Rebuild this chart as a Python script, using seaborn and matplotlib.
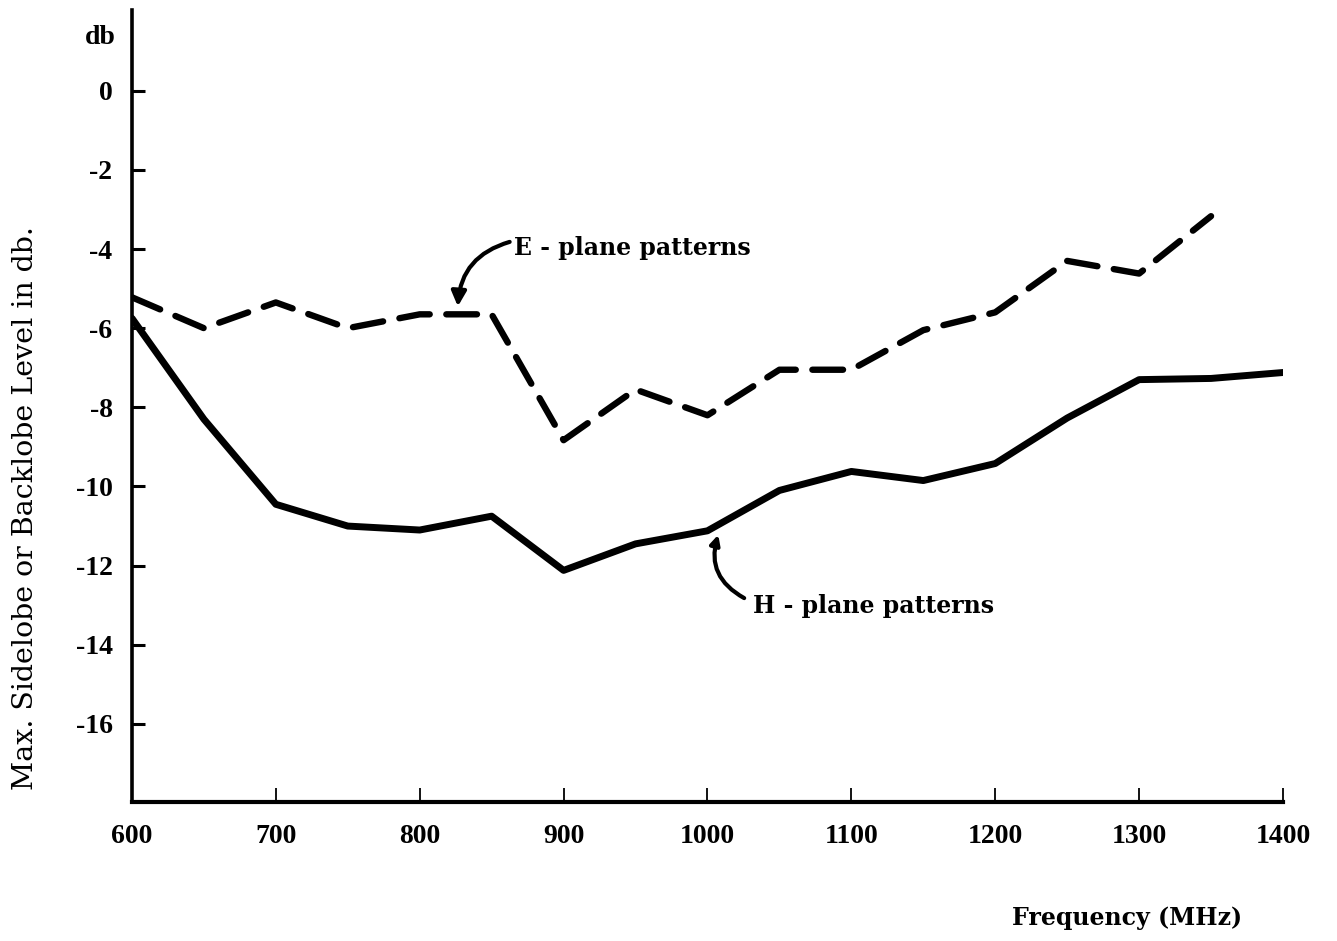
import matplotlib
matplotlib.use("Agg")
import matplotlib.pyplot as plt
import pandas as pd
import seaborn as sns

# Measured maximum sidelobe / backlobe levels (dB) versus frequency (MHz)
freq_e = [600, 650, 700, 750, 800, 850, 900, 950, 1000, 1050, 1100, 1150, 1200, 1250, 1300, 1350]
e_plane_db = [-5.22, -6.0, -5.35, -6.0, -5.65, -5.65, -8.83, -7.55, -8.2, -7.05, -7.05, -6.05, -5.6, -4.3, -4.62, -3.17]

freq_h = [600, 650, 700, 750, 800, 850, 900, 950, 1000, 1050, 1100, 1150, 1200, 1250, 1300, 1350, 1400]
h_plane_db = [-5.75, -8.3, -10.45, -11.0, -11.1, -10.75, -12.12, -11.45, -11.12, -10.1, -9.62, -9.85, -9.42, -8.27, -7.3, -7.27, -7.12]

x_ticks = [600, 700, 800, 900, 1000, 1100, 1200, 1300, 1400]
y_ticks = [0, -2, -4, -6, -8, -10, -12, -14, -16]

e_df = pd.DataFrame({"freq": freq_e, "db": e_plane_db})
h_df = pd.DataFrame({"freq": freq_h, "db": h_plane_db})

sns.set_theme(style="white")
plt.rcParams["font.family"] = ["Liberation Serif", "DejaVu Serif"]
plt.rcParams["axes.unicode_minus"] = False
for key in ("text.color", "axes.labelcolor", "xtick.color", "ytick.color",
            "axes.edgecolor"):
    plt.rcParams[key] = "black"

fig = plt.figure(figsize=(13.37, 9.41), dpi=100)
ax = fig.add_axes([0.0987, 0.1478, 0.8609, 0.8416])

sns.lineplot(data=h_df, x="freq", y="db", ax=ax, color="black", lw=5.0,
             solid_capstyle="round", solid_joinstyle="round")
sns.lineplot(data=e_df, x="freq", y="db", ax=ax, color="black", lw=4.6)
e_line = ax.lines[-1]
e_line.set_dashes((4.8, 2.6))
e_line.set_dash_capstyle("round")

ax.set_xlim(600, 1400)
ax.set_ylim(-17.97, 2.04)
ax.set_xticks(x_ticks)
ax.set_xticklabels([str(v) for v in x_ticks])
ax.set_yticks(y_ticks)
ax.set_yticklabels([str(v) for v in y_ticks])
ax.set_xlabel("")
ax.set_ylabel("")

for side in ("top", "right"):
    ax.spines[side].set_visible(False)
ax.spines["left"].set_linewidth(2.6)
ax.spines["bottom"].set_linewidth(3.0)

ax.tick_params(axis="y", left=True, direction="in", length=9, width=2.2,
               pad=14, labelsize=20)
ax.tick_params(axis="x", bottom=True, direction="in", length=10, width=1.3,
               pad=16, labelsize=20)
for lab in ax.get_xticklabels() + ax.get_yticklabels():
    lab.set_fontweight("bold")

label_font = dict(family=["DejaVu Serif"], fontweight="bold", fontsize=17)

# Curve labels with curved pointer arrows
ax.annotate("", xy=(826.5, -5.45), xytext=(862.5, -3.82),
            arrowprops=dict(arrowstyle="-|>", connectionstyle="arc3,rad=0.35",
                            lw=3.0, color="black", shrinkA=0, shrinkB=0,
                            mutation_scale=22))
ax.text(865.5, -3.98, "E - plane patterns", ha="left", va="center", **label_font)

ax.annotate("", xy=(1007.5, -11.22), xytext=(1025.5, -12.82),
            arrowprops=dict(arrowstyle="-|>", connectionstyle="arc3,rad=-0.4",
                            lw=3.0, color="black", shrinkA=0, shrinkB=0,
                            mutation_scale=14))
ax.text(1031.5, -13.02, "H - plane patterns", ha="left", va="center", **label_font)

fig.text(100 / 1337, 1 - 38 / 941, "db", fontsize=20, fontweight="bold",
         ha="center", va="center")
fig.text(1127 / 1337, 1 - 918 / 941, "Frequency (MHz)", ha="center",
         va="center", **label_font)
fig.text(26 / 1337, 1 - 508 / 941, "Max. Sidelobe or Backlobe Level in db.",
         fontsize=20.5, rotation=90, ha="center", va="center",
         family=["DejaVu Serif"])

fig.savefig("out.png", dpi=100, facecolor="white")
